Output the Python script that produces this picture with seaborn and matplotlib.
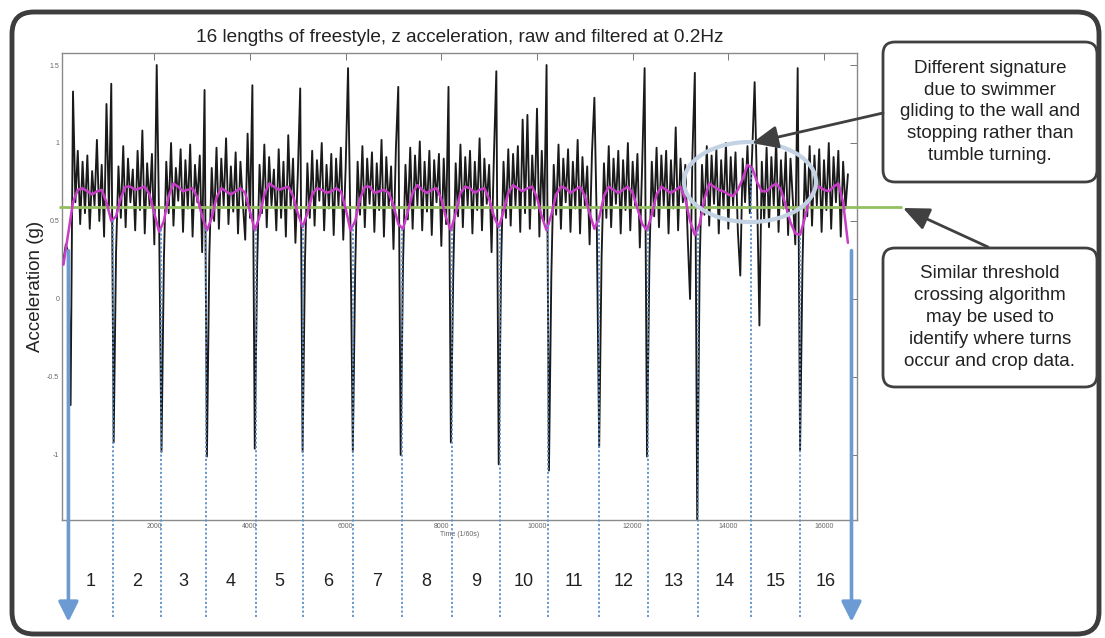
import numpy as np
import pandas as pd
import matplotlib
matplotlib.use('Agg')
import matplotlib.pyplot as plt
from matplotlib.patches import FancyBboxPatch, Ellipse
import seaborn as sns

# raw z acceleration (g), one value every 50 samples (1/60 s) from t=100
raw_start, raw_step = 100, 50
raw_z = [
    0.25, 0.35, 0.30, -0.68, 1.33, 0.62, 0.95, 0.48, 0.88, 0.55,
    0.92, 0.45, 0.82, 0.60, 1.02, 0.50, 0.86, 0.40, 1.25, 0.58,
    1.38, -0.92, 0.30, 0.85, 0.52, 0.98, 0.46, 0.90, 0.62, 0.83,
    0.44, 0.95, 0.57, 1.08, 0.42, 0.87, 0.60, 0.93, 0.35, 1.50,
    0.50, -0.98, 0.25, 0.88, 0.55, 1.00, 0.47, 0.84, 0.63, 0.96,
    0.43, 0.89, 0.58, 0.99, 0.40, 0.86, 0.62, 0.92, 0.30, 1.34,
    -1.01, 0.28, 0.84, 0.50, 0.97, 0.45, 0.90, 0.60, 1.03, 0.48,
    0.85, 0.56, 0.94, 0.42, 0.88, 0.62, 0.38, 1.06, 0.52, 1.37,
    -0.96, 0.22, 0.86, 0.55, 0.99, 0.46, 0.91, 0.60, 0.83, 0.44,
    0.96, 0.52, 0.88, 0.40, 1.05, 0.58, 0.90, 0.36, 0.80, 1.35,
    -0.98, 0.25, 0.87, 0.52, 0.95, 0.47, 0.89, 0.63, 1.00, 0.44,
    0.86, 0.58, 0.93, 0.41, 0.90, 0.60, 0.97, 0.38, 0.84, 1.48,
    0.45, -0.98, 0.20, 0.88, 0.54, 0.98, 0.46, 0.90, 0.61, 0.94,
    0.43, 0.87, 0.57, 1.02, 0.40, 0.91, 0.59, 0.85, 0.32, 0.96,
    1.36, -1.00, 0.24, 0.86, 0.51, 0.97, 0.45, 0.92, 0.60, 1.01,
    0.44, 0.88, 0.56, 0.95, 0.41, 0.89, 0.62, 0.93, 0.34, 0.90,
    0.48, 1.36, -0.92, 0.18, 0.87, 0.53, 0.99, 0.46, 0.91, 0.60,
    0.95, 0.42, 0.88, 0.57, 1.03, 0.44, 0.90, 0.61, 0.86, 0.30,
    0.92, 1.46, -1.06, 0.22, 0.88, 0.52, 0.96, 0.47, 0.93, 0.60,
    0.98, 0.43, 1.15, 0.55, 1.18, 0.45, 0.92, 0.58, 1.22, 0.40,
    0.95, 0.50, 1.50, -1.10, 0.15, 0.86, 0.54, 0.99, 0.45, 0.90,
    0.62, 0.96, 0.43, 0.88, 0.58, 1.02, 0.42, 0.91, 0.60, 0.85,
    0.35, 0.94, 1.29, 0.48, -0.95, 0.26, 0.87, 0.52, 0.98, 0.46,
    0.90, 0.61, 0.95, 0.42, 0.89, 0.57, 1.00, 0.44, 0.88, 0.60,
    0.93, 0.33, 0.87, 1.48, -1.01, 0.24, 0.88, 0.53, 0.97, 0.46,
    0.92, 0.60, 0.95, 0.42, 0.89, 0.58, 1.10, 0.44, 0.90, 0.62,
    0.86, 0.40, 0.00, 0.93, 1.45, -1.45, 0.20, 0.86, 0.54, 0.98,
    0.47, 0.92, 0.61, 0.96, 0.42, 0.89, 0.58, 1.00, 0.45, 0.91,
    0.60, 0.94, 0.43, 0.15, 0.90, 0.62, 0.98, 0.55, 0.95, 1.39,
    0.70, -0.17, 0.88, 0.50, 0.97, 0.46, 0.91, 0.60, 1.02, 0.43,
    0.89, 0.58, 0.94, 0.41, 0.90, 0.62, 0.35, 1.48, -0.97, 0.22,
    0.87, 0.53, 0.98, 0.47, 0.92, 0.60, 0.96, 0.43, 0.89, 0.57,
    1.00, 0.45, 0.91, 0.62, 0.95, 0.40, 0.88, 0.58, 0.80,
]

# filtered (0.2Hz) signal, one value every 100 samples from t=100
filt_start, filt_step = 100, 100
filt_z = [
    0.22, 0.42, 0.62, 0.70, 0.71, 0.69, 0.67, 0.69, 0.70, 0.62, 0.50,
    0.53, 0.65, 0.72, 0.72, 0.70, 0.71, 0.72, 0.67, 0.55, 0.43,
    0.50, 0.66, 0.74, 0.72, 0.69, 0.70, 0.71, 0.65, 0.53, 0.44,
    0.52, 0.65, 0.71, 0.69, 0.67, 0.69, 0.71, 0.68, 0.56, 0.44,
    0.53, 0.67, 0.74, 0.72, 0.70, 0.71, 0.72, 0.66, 0.55, 0.46,
    0.55, 0.67, 0.71, 0.70, 0.68, 0.69, 0.71, 0.69, 0.58, 0.44,
    0.50, 0.64, 0.72, 0.72, 0.68, 0.69, 0.70, 0.68, 0.60, 0.48, 0.45,
    0.56, 0.68, 0.73, 0.70, 0.68, 0.70, 0.71, 0.64, 0.52, 0.44,
    0.55, 0.68, 0.72, 0.71, 0.68, 0.70, 0.71, 0.64, 0.53, 0.46,
    0.56, 0.68, 0.73, 0.71, 0.69, 0.71, 0.72, 0.65, 0.53, 0.44,
    0.54, 0.67, 0.72, 0.71, 0.68, 0.70, 0.72, 0.66, 0.55, 0.45,
    0.52, 0.66, 0.72, 0.70, 0.68, 0.70, 0.72, 0.68, 0.58, 0.48, 0.44,
    0.54, 0.67, 0.72, 0.70, 0.68, 0.70, 0.72, 0.64, 0.50, 0.41,
    0.48, 0.64, 0.74, 0.72, 0.70, 0.69, 0.67, 0.66, 0.70, 0.77, 0.86,
    0.84, 0.75, 0.69, 0.69, 0.72, 0.74, 0.70, 0.60, 0.49, 0.42, 0.41,
    0.52, 0.65, 0.71, 0.72, 0.70, 0.69, 0.72, 0.74, 0.62, 0.36,
]

# turn positions (samples) found by the threshold crossing
turns = [1131, 2134, 3080, 4125, 5114, 6146, 7170, 8215,
         9224, 10234, 11300, 12324, 13369, 14470, 15494]
swim_start, swim_end = 204, 16575
threshold = 0.588
length_labels = [str(n) for n in range(1, 17)]

title = '16 lengths of freestyle, z acceleration, raw and filtered at 0.2Hz'
note_glide = 'Different signature\ndue to swimmer\ngliding to the wall and\nstopping rather than\ntumble turning.'
note_thresh = 'Similar threshold\ncrossing algorithm\nmay be used to\nidentify where turns\noccur and crop data.'

sns.set_style('white')
plt.rcParams['font.family'] = ['Liberation Sans', 'DejaVu Sans']

raw_df = pd.DataFrame({'t': raw_start + raw_step * np.arange(len(raw_z)), 'z': raw_z})
filt_df = pd.DataFrame({'t': filt_start + filt_step * np.arange(len(filt_z)), 'z': filt_z})

fig = plt.figure(figsize=(11.05, 6.38), dpi=100)
ax = fig.add_axes([62 / 1105, 1 - 520 / 638, 795 / 1105, 467 / 638])

sns.lineplot(data=raw_df, x='t', y='z', ax=ax, color='#1a1a1a', lw=1.35,
             estimator=None, sort=False, zorder=2)
# threshold line runs out past the axes to the callout arrow
ax.plot([0, 17630], [threshold, threshold], color='#93bf5e', lw=2.0,
        clip_on=False, zorder=3, solid_capstyle='butt')
sns.lineplot(data=filt_df, x='t', y='z', ax=ax, color='#c83cc8', lw=1.8,
             estimator=None, sort=False, zorder=4)

# dotted turn markers
tops = np.interp(turns, filt_df['t'], filt_df['z'])
ax.vlines(turns, -2.04, tops, colors='#5d8fcc', linestyles=(0, (1.2, 1.2)),
          lw=1.3, clip_on=False, zorder=5)

# start / end arrows
for xm in [swim_start, swim_end]:
    ax.annotate('', xy=(xm, -2.07), xytext=(xm, 0.31),
                arrowprops=dict(arrowstyle='-|>,head_length=0.6,head_width=0.3',
                                color='#6b9bd2', lw=2.6, mutation_scale=20,
                                shrinkA=0, shrinkB=0),
                annotation_clip=False, zorder=6)

# length numbers between the turns
bounds = [swim_start] + turns + [swim_end]
mids = [(a + b) / 2 for a, b in zip(bounds[:-1], bounds[1:])]
for lab, xm in zip(length_labels, mids):
    ax.text(xm, -1.81, lab, ha='center', va='center', fontsize=13,
            color='#222222', clip_on=False)

ax.set_xlim(70, 16690)
ax.set_ylim(-1.417, 1.577)
ax.set_xticks(range(2000, 16001, 2000))
ax.set_yticks([-1, -0.5, 0, 0.5, 1, 1.5])
ax.set_yticklabels(['-1', '-0.5', '0', '0.5', '1', '1.5'])
ax.tick_params(direction='in', length=5, width=0.7, color='#777777',
               labelsize=5, labelcolor='#666666', top=True, right=True, pad=2)
for sp in ax.spines.values():
    sp.set_color('#8a8a8a')
    sp.set_linewidth(1.0)
ax.set_xlabel('Time (1/60s)', fontsize=5, color='#666666', labelpad=1)
ax.set_ylabel('Acceleration (g)', fontsize=13.5, color='#222222')
ax.yaxis.set_label_coords(-0.023, 0.5)
ax.set_title(title, fontsize=13.7, color='#222222', pad=8)

# overlay in pixel units for frame and callouts
ov = fig.add_axes([0, 0, 1, 1], zorder=10)
ov.set_xlim(0, 1105)
ov.set_ylim(638, 0)
ov.axis('off')
ov.patch.set_alpha(0)

ov.add_patch(FancyBboxPatch((12, 12), 1087, 622, boxstyle='round,pad=0,rounding_size=22',
                            fc='none', ec='#3d3d3d', lw=3.5))
ov.add_patch(Ellipse((750, 182), 132, 80, fill=False, ec='#c3d3e3', lw=3))

for (y0, h, txt) in [(42, 140, note_glide), (248, 139, note_thresh)]:
    ov.add_patch(FancyBboxPatch((883, y0), 214, h, boxstyle='round,pad=0,rounding_size=12',
                                fc='white', ec='#404040', lw=2))
    ov.text(990, y0 + h / 2, txt, ha='center', va='center', fontsize=13.5,
            linespacing=1.37, color='#222222')

arrow_kw = dict(arrowstyle='-|>,head_length=0.8,head_width=0.35', color='#404040',
                lw=2, mutation_scale=20, shrinkA=0, shrinkB=0)
ov.annotate('', xy=(752, 143), xytext=(883, 113), arrowprops=arrow_kw)
ov.annotate('', xy=(903, 208), xytext=(988, 247), arrowprops=arrow_kw)

fig.savefig('out.png', dpi=100, facecolor='white')
